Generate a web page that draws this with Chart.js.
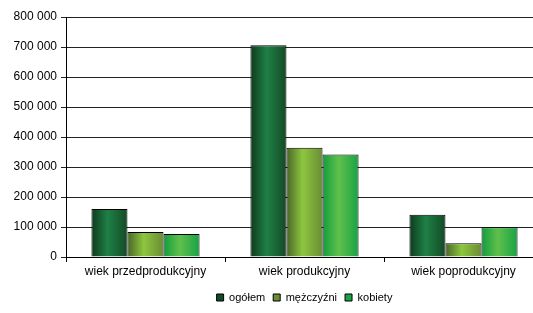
<!DOCTYPE html>
<html>
<head>
<meta charset="utf-8">
<script src="https://cdn.jsdelivr.net/npm/chart.js@4/dist/chart.umd.min.js"></script>
<style>
  html, body { margin: 0; padding: 0; overflow: hidden; background: #fff; }
  #wrap { width: 543px; height: 313px; position: relative; }
</style>
</head>
<body>
<div id="wrap"><canvas id="wykres"></canvas></div>
<script>
// Dane
const kategorie = ['wiek przedprodukcyjny', 'wiek produkcyjny', 'wiek poprodukcyjny'];
const ogolem = [160000, 706000, 141000];
const mezczyzni = [83000, 364000, 46000];
const kobiety = [77000, 342000, 99000];
const osY = { min: 0, max: 800000, krok: 100000 };

const procentKategorii = 0.68;

// Gradient poziomy dla słupka liczony ze skali X
function gradient(ctx, kolory) {
    const chart = ctx.chart;
    const x = chart.scales.x;
    if (!x || !chart.chartArea || ctx.dataIndex === undefined) return kolory[1];
    const szerKat = x.width / kategorie.length;
    const szerGrupy = szerKat * procentKategorii;
    const szerSlupka = szerGrupy / 3;
    const lewo = x.getPixelForValue(ctx.dataIndex) - szerGrupy / 2 + ctx.datasetIndex * szerSlupka;
    const g = chart.ctx.createLinearGradient(lewo, 0, lewo + szerSlupka, 0);
    g.addColorStop(0, kolory[0]);
    g.addColorStop(0.45, kolory[1]);
    g.addColorStop(1, kolory[2]);
    return g;
}

const formatuj = v => String(v).replace(/\B(?=(\d{3})+(?!\d))/g, ' ');

new Chart(document.getElementById('wykres'), {
    type: 'bar',
    data: {
        labels: kategorie,
        datasets: [
            {
                label: 'ogółem',
                data: ogolem,
                backgroundColor: c => gradient(c, ['#0e3a1d', '#1f8045', '#134a26']),
                borderColor: '#000',
                borderWidth: 1
            },
            {
                label: 'mężczyźni',
                data: mezczyzni,
                backgroundColor: c => gradient(c, ['#4a6628', '#8dc63f', '#6b8c33']),
                borderColor: '#000',
                borderWidth: 1
            },
            {
                label: 'kobiety',
                data: kobiety,
                backgroundColor: c => gradient(c, ['#129c3e', '#5fc04b', '#17a346']),
                borderColor: '#000',
                borderWidth: 1
            }
        ]
    },
    options: {
        responsive: true,
        maintainAspectRatio: false,
        animation: false,
        layout: { padding: { top: 17, left: 0, right: 0, bottom: 0 } },
        datasets: { bar: { categoryPercentage: procentKategorii, barPercentage: 1 } },
        plugins: {
            tooltip: { enabled: false },
            legend: {
                position: 'bottom',
                fullSize: false,
                labels: {
                    boxWidth: 7,
                    boxHeight: 7,
                    padding: 8,
                    color: '#000',
                    font: { family: 'Liberation Sans, Arial, sans-serif', size: 11 }
                }
            }
        },
        scales: {
            x: {
                grid: { display: true, drawOnChartArea: false, color: '#000', tickLength: 5, offset: true },
                border: { color: '#000', width: 1 },
                ticks: { color: '#000', padding: 2, font: { family: 'Liberation Sans, Arial, sans-serif', size: 12 } },
                afterFit: s => { s.height = 27; }
            },
            y: {
                min: osY.min,
                max: osY.max,
                grid: { color: '#222', tickLength: 5 },
                border: { color: '#000', width: 1 },
                ticks: {
                    stepSize: osY.krok,
                    padding: 4,
                    color: '#000',
                    font: { family: 'Liberation Sans, Arial, sans-serif', size: 12 },
                    callback: v => formatuj(v)
                },
                afterFit: s => { s.width = 66; }
            }
        }
    }
});
</script>
</body>
</html>
